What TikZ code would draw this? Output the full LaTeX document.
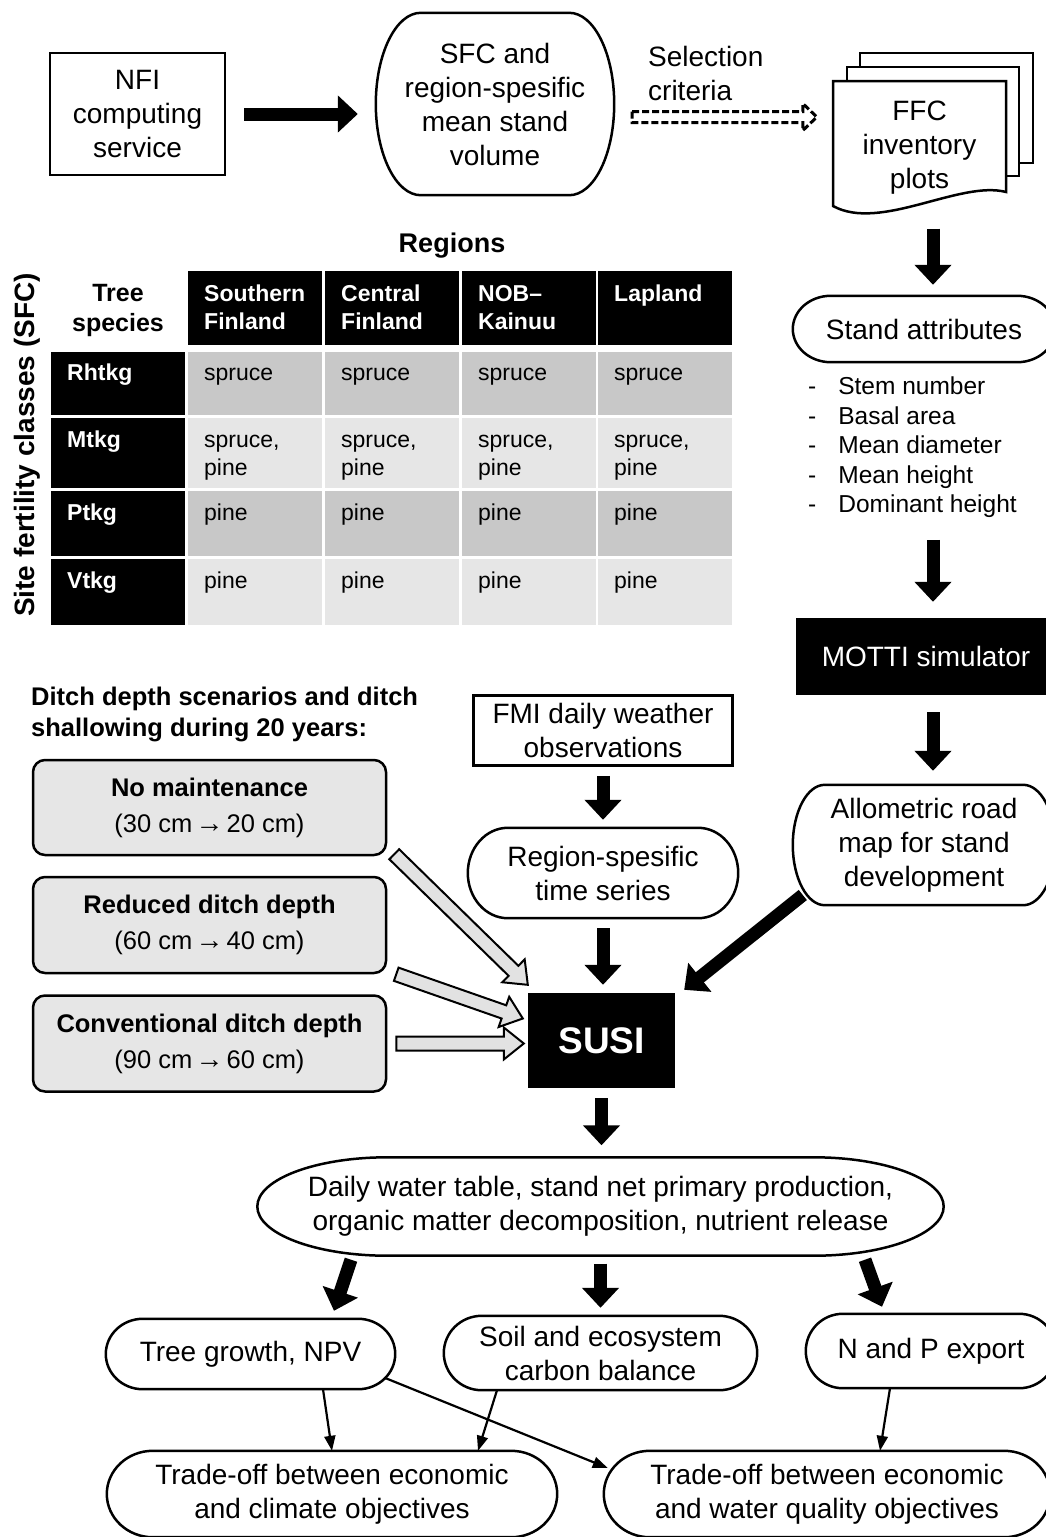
\documentclass[tikz,border=0pt]{standalone}
\usepackage{fontspec}
\setmainfont{Liberation Sans}
\usetikzlibrary{arrows.meta,calc}

\definecolor{scengray}{HTML}{E6E6E6}
\definecolor{darkcell}{HTML}{C8C8C8}
\definecolor{lightcell}{HTML}{E6E6E6}
\definecolor{arrowgray}{HTML}{E2E2E2}

\newcommand{\mainsize}{\fontsize{28}{34}\selectfont}
\newcommand{\tinyarrow}{\kern-4pt\raisebox{0pt}{\fontsize{28}{28}\selectfont →}\kern-4pt}

% outline with half-elliptic ends round a node (#1 name, #2 corner width)
\newcommand{\ovaloutline}[2]{%
	\draw[outline] ([xshift=#2]#1.north west) -- ([xshift=-#2]#1.north east)
		.. controls ([xshift=-0.448*#2]#1.north east) and ($(#1.north east)!0.448!(#1.east)$) .. (#1.east)
		.. controls ($(#1.south east)!0.448!(#1.east)$) and ([xshift=-0.448*#2]#1.south east) .. ([xshift=-#2]#1.south east)
		-- ([xshift=#2]#1.south west)
		.. controls ([xshift=0.448*#2]#1.south west) and ($(#1.south west)!0.448!(#1.west)$) .. (#1.west)
		.. controls ($(#1.north west)!0.448!(#1.west)$) and ([xshift=0.448*#2]#1.north west) .. ([xshift=#2]#1.north west) -- cycle;}

% block arrow: style, from, to, half shaft, half head, head length
\newcommand{\hollowarrow}[6]{%
	\coordinate (ha) at #2;
	\coordinate (hb) at #3;
	\coordinate (hc) at ($(hb)!#6!(ha)$);
	\draw[#1] ($(ha)!#4!90:(hb)$) -- ($(hc)!#4!90:(hb)$) -- ($(hc)!#5!90:(hb)$) -- (hb)
		-- ($(hc)!#5!-90:(hb)$) -- ($(hc)!#4!-90:(hb)$) -- ($(ha)!#4!-90:(hb)$) -- cycle;}

\tikzset{
	txt/.style={align=center, font=\mainsize, inner sep=0pt},
	outline/.style={line width=2.5pt},
	plainbox/.style={txt, draw, line width=2.5pt},
	blackbox/.style={txt, fill=black, text=white},
	doc/.style={line width=2.5pt, fill=white},
	scenario/.style={draw, line width=2.5pt, rounded corners=12pt, fill=scengray, align=center,
		font=\fontsize{25.5}{36}\selectfont, minimum width=353pt, inner sep=0pt},
	headtxt/.style={anchor=base west, inner sep=0pt, text width=118pt, align=left, text=white,
		font=\bfseries\fontsize{23}{28}\selectfont},
	rowtxt/.style={anchor=base west, inner sep=0pt, text=white, font=\bfseries\fontsize{23}{28}\selectfont},
	celltxt/.style={anchor=base west, inner sep=0pt, text width=118pt, align=left,
		font=\fontsize{23}{28}\selectfont},
	bigarrow/.style={line width=13pt, -{Triangle[length=20pt, width=36pt]}},
	thinarrow/.style={line width=2.2pt, -{Triangle[length=15pt, width=11pt]}},
	hollow/.style={line width=2pt, fill=arrowgray},
	dashedhollow/.style={line width=3pt, dash pattern=on 7pt off 3pt}
}

\begin{document}
\begin{tikzpicture}[x=1pt, y=-1pt]
	\useasboundingbox (0,0) rectangle (1045,1537);

	\node[plainbox, minimum width=175pt, minimum height=122pt] (nfi) at (137.5,114) {NFI\\computing\\service};
	\node[txt, minimum width=238pt, minimum height=182pt] (sfc) at (495,104) {SFC and\\region-spesific\\mean stand\\volume};
	\ovaloutline{sfc}{45pt}
	\node[txt, anchor=west, align=left] (crit) at (648,73) {Selection\\criteria};

	\draw[doc] (860,163) -- (860,53) -- (1033,53) -- (1033,163) -- cycle;
	\draw[doc] (847,176) -- (847,67) -- (1019,67) -- (1019,176) -- cycle;
	\draw[doc] (833,206) -- (833,81) -- (1006,81) -- (1006,192) .. controls (960,180) and (880,232) .. (833,206) -- cycle;
	\node[txt, minimum width=173pt, minimum height=125pt] (ffc) at (919.5,148) {FFC\\inventory\\plots};

	\draw[bigarrow, shorten <=18pt, shorten >=18pt] (nfi.east) -- (nfi.east -| sfc.west);
	\hollowarrow{dashedhollow}{([xshift=18pt,yshift=-13pt]sfc.east)}{([xshift=-16pt,yshift=31pt]ffc.west)}{5.5pt}{13.5pt}{14pt}

	% right column
	\coordinate (col) at (933,0);
	\node[txt, minimum width=262pt, minimum height=66pt] (stand) at (924,329) {Stand attributes};
	\ovaloutline{stand}{38pt}
	\node[anchor=west, inner sep=0pt, font=\fontsize{24.5}{29.5}\selectfont] (attrs) at (808,448) {%
		\begin{tabular}{@{}l@{\hspace{22pt}}l@{}}
			- & Stem number\\
			- & Basal area\\
			- & Mean diameter\\
			- & Mean height\\
			- & Dominant height
		\end{tabular}};
	\node[blackbox, minimum width=260pt, minimum height=77pt] (motti) at (926,656.5) {MOTTI simulator};
	\node[txt, minimum width=262pt, minimum height=120pt] (allo) at (924,845) {Allometric road\\map for stand\\development};
	\ovaloutline{allo}{32pt}

	\draw[bigarrow, shorten <=18pt, shorten >=11pt] (ffc.south -| col) -- (stand.north -| col);
	\draw[bigarrow, shorten <=18pt, shorten >=16pt] (attrs.south -| col) -- (motti.north -| col);
	\draw[bigarrow, shorten <=17pt, shorten >=14pt] (motti.south -| col) -- (allo.north -| col);

	% table
	\node[font=\bfseries\fontsize{27}{32}\selectfont, inner sep=0pt] (regions) at (452,246) {Regions};
	\node[font=\bfseries\fontsize{28}{32}\selectfont, inner sep=0pt, rotate=90] (sfcaxis) at (27,445) {Site fertility classes (SFC)};
	\node[align=center, inner sep=0pt, font=\bfseries\fontsize{25}{30}\selectfont] (species) at (118,310) {Tree\\species};

	\foreach \x in {188,325,462,598} {
		\fill (\x,271) rectangle ++(134,74);
		\fill[darkcell] (\x,352) rectangle ++(134,63);
		\fill[lightcell] (\x,418) rectangle ++(134,70);
		\fill[darkcell] (\x,491) rectangle ++(134,65);
		\fill[lightcell] (\x,559) rectangle ++(134,66);
	}
	\foreach \y/\h in {352/63,418/70,491/65,559/66}
		\fill (51,\y) rectangle ++(134,\h);

	\node[headtxt] (hsouth) at (204,301) {Southern\\Finland};
	\node[headtxt] (hcentral) at (341,301) {Central\\Finland};
	\node[headtxt] (hnob) at (478,301) {NOB–\\Kainuu};
	\node[headtxt] (hlap) at (614,301) {Lapland};

	\node[rowtxt] (rrh) at (67,380) {Rhtkg};
	\node[rowtxt] (rmt) at (67,447) {Mtkg};
	\node[rowtxt] (rpt) at (67,520) {Ptkg};
	\node[rowtxt] (rvt) at (67,588) {Vtkg};

	\node[celltxt] (c11) at (204,380) {spruce};
	\node[celltxt] (c12) at (341,380) {spruce};
	\node[celltxt] (c13) at (478,380) {spruce};
	\node[celltxt] (c14) at (614,380) {spruce};
	\node[celltxt] (c21) at (204,447) {spruce,\\pine};
	\node[celltxt] (c22) at (341,447) {spruce,\\pine};
	\node[celltxt] (c23) at (478,447) {spruce,\\pine};
	\node[celltxt] (c24) at (614,447) {spruce,\\pine};
	\node[celltxt] (c31) at (204,520) {pine};
	\node[celltxt] (c32) at (341,520) {pine};
	\node[celltxt] (c33) at (478,520) {pine};
	\node[celltxt] (c34) at (614,520) {pine};
	\node[celltxt] (c41) at (204,588) {pine};
	\node[celltxt] (c42) at (341,588) {pine};
	\node[celltxt] (c43) at (478,588) {pine};
	\node[celltxt] (c44) at (614,588) {pine};

	% scenarios
	\node[anchor=west, align=left, inner sep=0pt, font=\bfseries\fontsize{25.5}{31}\selectfont] (ditch) at (31,714) {Ditch depth scenarios and ditch\\shallowing during 20 years:};
	\node[scenario, minimum height=95pt] (nomaint) at (209.5,807.5) {{\bfseries No maintenance}\\(30 cm \tinyarrow{} 20 cm)};
	\node[scenario, minimum height=96pt] (reduced) at (209.5,925) {{\bfseries Reduced ditch depth}\\(60 cm \tinyarrow{} 40 cm)};
	\node[scenario, minimum height=96pt] (conv) at (209.5,1043.5) {{\bfseries Conventional ditch depth}\\(90 cm \tinyarrow{} 60 cm)};

	% middle column
	\node[plainbox, minimum width=259pt, minimum height=70pt] (fmi) at (603,730.5) {FMI daily weather\\observations};
	\node[txt, minimum width=270pt, minimum height=90pt] (region) at (603,873) {Region-spesific\\time series};
	\ovaloutline{region}{40pt}
	\node[blackbox, minimum width=147pt, minimum height=95pt, font=\bfseries\fontsize{37}{44}\selectfont] (susi) at (601.5,1040.5) {SUSI};

	\draw[bigarrow, shorten <=9pt, shorten >=8pt] (fmi.south) -- (fmi.south |- region.north);
	\draw[bigarrow, shorten <=10pt, shorten >=8pt] (region.south) -- (region.south |- susi.north);
	\draw[bigarrow] ([xshift=10pt,yshift=-50pt]allo.west) -- ([xshift=9pt,yshift=3pt]susi.north east);

	\hollowarrow{hollow}{([xshift=7pt,yshift=2pt]nomaint.south east)}{([yshift=8pt]susi.north west)}{7pt}{16pt}{20pt}
	\hollowarrow{hollow}{([xshift=9pt]reduced.south east)}{([xshift=-5pt,yshift=22pt]susi.west)}{7pt}{16pt}{20pt}
	\hollowarrow{hollow}{([xshift=9pt]conv.east)}{([xshift=-4pt,yshift=-3pt]susi.west)}{7pt}{16pt}{20pt}

	% outputs
	\node[txt, minimum width=686pt, minimum height=98pt] (daily) at (600.5,1206.5) {Daily water table, stand net primary production,\\organic matter decomposition, nutrient release};
	\ovaloutline{daily}{130pt}
	\node[txt, minimum width=289pt, minimum height=70pt] (tree) at (250.5,1354) {Tree growth, NPV};
	\ovaloutline{tree}{37pt}
	\node[txt, minimum width=313pt, minimum height=74pt] (soil) at (600.5,1353) {Soil and ecosystem\\carbon balance};
	\ovaloutline{soil}{38pt}
	\node[txt, minimum width=250pt, minimum height=74pt] (np) at (931,1351) {N and P export};
	\ovaloutline{np}{37pt}
	\node[txt, minimum width=450pt, minimum height=86pt] (tclim) at (332,1494) {Trade-off between economic\\and climate objectives};
	\ovaloutline{tclim}{46pt}
	\node[txt, minimum width=446pt, minimum height=86pt] (twater) at (827,1494) {Trade-off between economic\\and water quality objectives};
	\ovaloutline{twater}{46pt}

	\draw[bigarrow, shorten <=10pt, shorten >=12pt] (susi.south) -- (susi.south |- daily.north);
	\draw[bigarrow] ([xshift=-249.5pt,yshift=-4pt]daily.south) -- ([xshift=83.5pt,yshift=8pt]tree.north);
	\draw[bigarrow, shorten <=8pt, shorten >=8pt] (daily.south) -- (soil.north);
	\draw[bigarrow] ([xshift=264.5pt,yshift=-4pt]daily.south) -- ([xshift=-49pt,yshift=7pt]np.north);

	\draw[thinarrow] ([xshift=72.5pt]tree.south) -- (tclim.north);
	\draw[thinarrow] ([xshift=-103.5pt]soil.south) -- ([xshift=146pt]tclim.north);
	\draw[thinarrow] ([xshift=-10pt,yshift=-24pt]tree.east) -- ([xshift=4pt,yshift=26pt]twater.west);
	\draw[thinarrow] ([xshift=-41pt]np.south) -- ([xshift=53pt]twater.north);

\end{tikzpicture}
\end{document}
